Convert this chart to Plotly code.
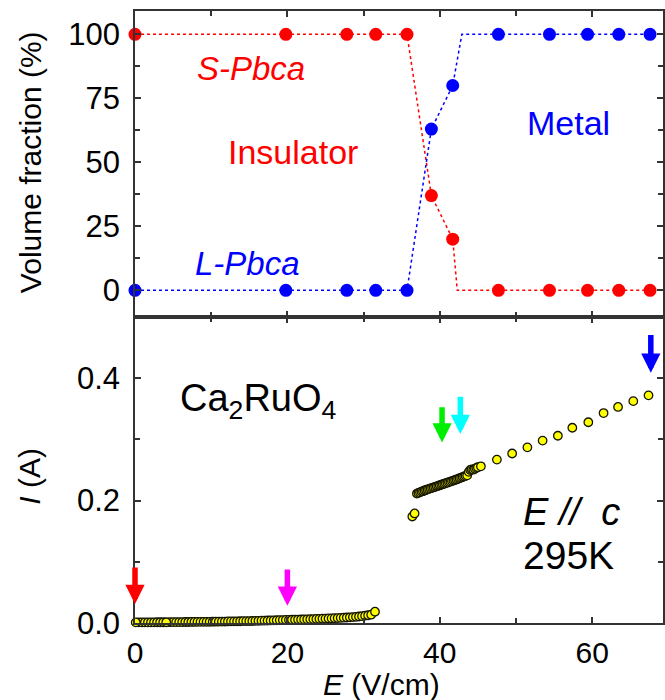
import plotly.graph_objects as go

# ---- top panel: phase volume fractions vs. field ----
E_frac = [0.0, 19.8, 27.8, 31.6, 35.7, 38.9, 41.7, 47.7, 54.4, 59.4, 63.5, 67.6]
S_pbca = [100, 100, 100, 100, 100, 37, 20, 0, 0, 0, 0, 0]
L_pbca = [0, 0, 0, 0, 0, 63, 80, 100, 100, 100, 100, 100]

# dotted guide lines through the fractions
S_guide_E = [0.0, 35.7, 38.9, 41.7, 42.3, 67.6]
S_guide = [100, 100, 37, 20, 0, 0]
L_guide_E = [0.0, 35.7, 38.9, 41.7, 42.9, 67.6]
L_guide = [0, 0, 63, 80, 100, 100]

# ---- bottom panel: I-E curve ----
E_low = [0.5, 0.9, 1.3, 1.7, 2.1, 2.5, 2.9, 3.3, 3.7,
         4.6, 5.0, 5.4, 5.8, 6.2, 6.6, 7.0, 7.4, 7.8, 8.2, 8.6, 9.0, 9.4, 9.8,
         10.2, 10.6, 11.0, 11.4, 11.8, 12.2, 12.6, 13.0, 13.4, 13.8, 14.2, 14.6,
         15.0, 15.4, 15.8, 16.2, 16.6, 17.0, 17.4, 17.8, 18.2, 18.6, 19.0, 19.4,
         19.8, 20.2, 20.6, 21.0, 21.4, 21.8, 22.2, 22.6, 23.0, 23.4, 23.8, 24.2,
         24.6, 25.0, 25.4, 25.8, 26.2, 26.6, 27.0, 27.4, 27.8, 28.2, 28.6, 29.0,
         29.4, 29.8, 30.2, 30.6, 31.0, 31.5,
         0.1, 4.1]
I_low = [0.0010, 0.0010, 0.0011, 0.0011, 0.0011, 0.0011, 0.0012, 0.0012, 0.0012,
         0.0013, 0.0014, 0.0014, 0.0015, 0.0015, 0.0016, 0.0016, 0.0017,
         0.0017, 0.0018, 0.0018, 0.0019, 0.0019, 0.0020, 0.0021, 0.0021, 0.0022,
         0.0023, 0.0024, 0.0025, 0.0026, 0.0027, 0.0028, 0.0029, 0.0030, 0.0031,
         0.0032, 0.0033, 0.0035, 0.0036, 0.0038, 0.0039, 0.0041, 0.0042, 0.0044,
         0.0045, 0.0047, 0.0048, 0.0050, 0.0051, 0.0053, 0.0054, 0.0056, 0.0057,
         0.0059, 0.0060, 0.0062, 0.0064, 0.0066, 0.0068, 0.0070, 0.0072, 0.0074,
         0.0076, 0.0079, 0.0081, 0.0084, 0.0087, 0.0090, 0.0093, 0.0097, 0.0101,
         0.0106, 0.0112, 0.0119, 0.0127, 0.0136, 0.0185,
         0.0010, 0.0012]

E_high = [36.4, 36.7,
          37.0, 37.2, 37.4, 37.6, 37.8, 38.0, 38.2, 38.4, 38.6, 38.8, 39.0, 39.2,
          39.4, 39.6, 39.8, 40.0, 40.2, 40.4, 40.6, 40.8, 41.0, 41.2, 41.4, 41.6,
          41.8, 42.0, 42.2, 42.4, 42.6, 42.8, 43.0, 43.2, 43.4, 43.6,
          43.8, 44.0, 44.2, 44.4, 44.6, 44.8, 45.0, 45.4,
          47.5, 49.5, 51.5, 53.5, 55.5, 57.4, 59.5, 61.5, 63.4, 65.4, 67.4]
I_high = [0.174, 0.179,
          0.2115, 0.2126, 0.2135, 0.2146, 0.2154, 0.2165, 0.2173, 0.2183, 0.2191,
          0.2200, 0.2208, 0.2217, 0.2225, 0.2234, 0.2242, 0.2251, 0.2259, 0.2268,
          0.2276, 0.2285, 0.2293, 0.2302, 0.2310, 0.2319, 0.2328, 0.2337, 0.2346,
          0.2355, 0.2365, 0.2375, 0.2385, 0.2395, 0.2404, 0.2412,
          0.2470, 0.2500, 0.2510, 0.2505, 0.2520, 0.2535, 0.2545, 0.2560,
          0.267, 0.277, 0.287, 0.298, 0.306, 0.319, 0.328, 0.343, 0.353, 0.3625, 0.372]

# measurement arrows: field, tail and tip current, colour
arrow_E = [0.0, 20.0, 40.3, 42.7, 67.7]
arrow_tail = [0.093, 0.090, 0.355, 0.372, 0.473]
arrow_tip = [0.031, 0.028, 0.295, 0.309, 0.409]
arrow_color = ["#ff0000", "#ff00ff", "#00ee00", "#00ffff", "#0000ff"]

RED = "#ff0000"
BLUE = "#0000ff"
FONT = "Liberation Sans, Arial, sans-serif"
AXC = "#333333"

fig = go.Figure()

fig.add_trace(go.Scatter(x=S_guide_E, y=S_guide, xaxis="x2", yaxis="y2", mode="lines",
                         line=dict(color=RED, width=1.5, dash="dot"), hoverinfo="skip"))
fig.add_trace(go.Scatter(x=L_guide_E, y=L_guide, xaxis="x2", yaxis="y2", mode="lines",
                         line=dict(color=BLUE, width=1.5, dash="dot"), hoverinfo="skip"))
fig.add_trace(go.Scatter(x=E_frac, y=S_pbca, xaxis="x2", yaxis="y2", mode="markers",
                         marker=dict(color=RED, size=13), cliponaxis=False, name="S-Pbca"))
fig.add_trace(go.Scatter(x=E_frac, y=L_pbca, xaxis="x2", yaxis="y2", mode="markers",
                         marker=dict(color=BLUE, size=13), cliponaxis=False, name="L-Pbca"))

iv_marker = dict(color="#ffff00", size=8.5, line=dict(color="#141400", width=1.3))
fig.add_trace(go.Scatter(x=E_low, y=I_low, mode="markers", marker=iv_marker,
                         cliponaxis=False, name="I-E"))
fig.add_trace(go.Scatter(x=E_high, y=I_high, mode="markers", marker=iv_marker,
                         cliponaxis=False, name="I-E"))

tickfont = dict(family=FONT, size=31, color="black")
xtickfont = dict(family=FONT, size=30, color="black")
minor_x = dict(ticks="inside", dtick=10, ticklen=5, tickwidth=1.5, tickcolor=AXC)
common_x = dict(range=[0, 69.3], showline=True, linecolor=AXC, linewidth=1.5,
                mirror="ticks", ticks="inside", ticklen=6, tickwidth=1.5, tickcolor=AXC,
                tick0=0, dtick=20, showgrid=False, zeroline=False, minor=minor_x)
common_y = dict(showline=True, linecolor=AXC, linewidth=1.5, mirror="ticks",
                ticks="inside", ticklen=6, tickwidth=1.5, tickcolor=AXC,
                showgrid=False, zeroline=False, tickfont=tickfont, ticklabelstandoff=7)

annotations = [
    dict(text="Volume fraction (%)", xref="paper", yref="paper", x=0, y=0.753,
         xanchor="center", yanchor="middle", xshift=-105, textangle=-90,
         showarrow=False, font=dict(family=FONT, size=30)),
    dict(text="<i>I</i> (A)", xref="paper", yref="paper", x=0, y=0.239,
         xanchor="center", yanchor="middle", xshift=-105, textangle=-90,
         showarrow=False, font=dict(family=FONT, size=30)),
    dict(text="<i>E</i> (V/cm)", xref="x", yref="paper", x=32.4, y=0, yshift=-61,
         xanchor="center", yanchor="middle", showarrow=False,
         font=dict(family=FONT, size=30)),
    dict(text="<i>S-Pbca</i>", xref="x2", yref="y2", x=15.2, y=86.8, showarrow=False,
         font=dict(family=FONT, size=33, color=RED)),
    dict(text="<i>L-Pbca</i>", xref="x2", yref="y2", x=14.8, y=10.6, showarrow=False,
         font=dict(family=FONT, size=33, color=BLUE)),
    dict(text="Insulator", xref="x2", yref="y2", x=20.7, y=54, showarrow=False,
         font=dict(family=FONT, size=34, color=RED)),
    dict(text="Metal", xref="x2", yref="y2", x=56.9, y=65.3, showarrow=False,
         font=dict(family=FONT, size=34, color=BLUE)),
    dict(text="Ca<sub>2</sub>RuO<sub>4</sub>", xref="x", yref="y", x=5.6, y=0.362,
         xanchor="left", yanchor="middle", showarrow=False,
         font=dict(family=FONT, size=38)),
    dict(text="<i>E</i> <i>//</i>  <i>c</i>", xref="x", yref="y", x=50.6, y=0.181,
         xanchor="left", yanchor="middle", showarrow=False,
         font=dict(family=FONT, size=38)),
    dict(text="295K", xref="x", yref="y", x=50.6, y=0.110, xanchor="left",
         yanchor="middle", showarrow=False, font=dict(family=FONT, size=39)),
]
for e, tail, tip, col in zip(arrow_E, arrow_tail, arrow_tip, arrow_color):
    annotations.append(dict(text="", x=e, y=tip, ax=e, ay=tail, xref="x", yref="y",
                            axref="x", ayref="y", showarrow=True, arrowhead=2,
                            arrowwidth=5.5, arrowsize=0.7, arrowcolor=col))

fig.update_layout(
    width=665, height=700,
    margin=dict(l=135, r=0, t=11, b=77),
    paper_bgcolor="white", plot_bgcolor="white",
    showlegend=False,
    font=dict(family=FONT, color="black"),
    xaxis=dict(common_x, anchor="y", tickfont=xtickfont, ticklabelstandoff=2),
    xaxis2=dict(common_x, anchor="y2", matches="x", showticklabels=False),
    yaxis=dict(common_y, domain=[0, 0.5], range=[0, 0.5], tickvals=[0, 0.2, 0.4],
               ticktext=["0.0", "0.2", "0.4"],
               minor=dict(ticks="inside", tickvals=[0.1, 0.3], ticklen=5, tickwidth=1.5,
                          tickcolor=AXC)),
    yaxis2=dict(common_y, domain=[0.5, 1], range=[-10.4, 109.1], anchor="x2",
                tickvals=[0, 25, 50, 75, 100],
                minor=dict(ticks="inside", tickvals=[12.5, 37.5, 62.5, 87.5], ticklen=5,
                           tickwidth=1.5, tickcolor=AXC)),
    annotations=annotations,
)

fig.write_html("out.html")
